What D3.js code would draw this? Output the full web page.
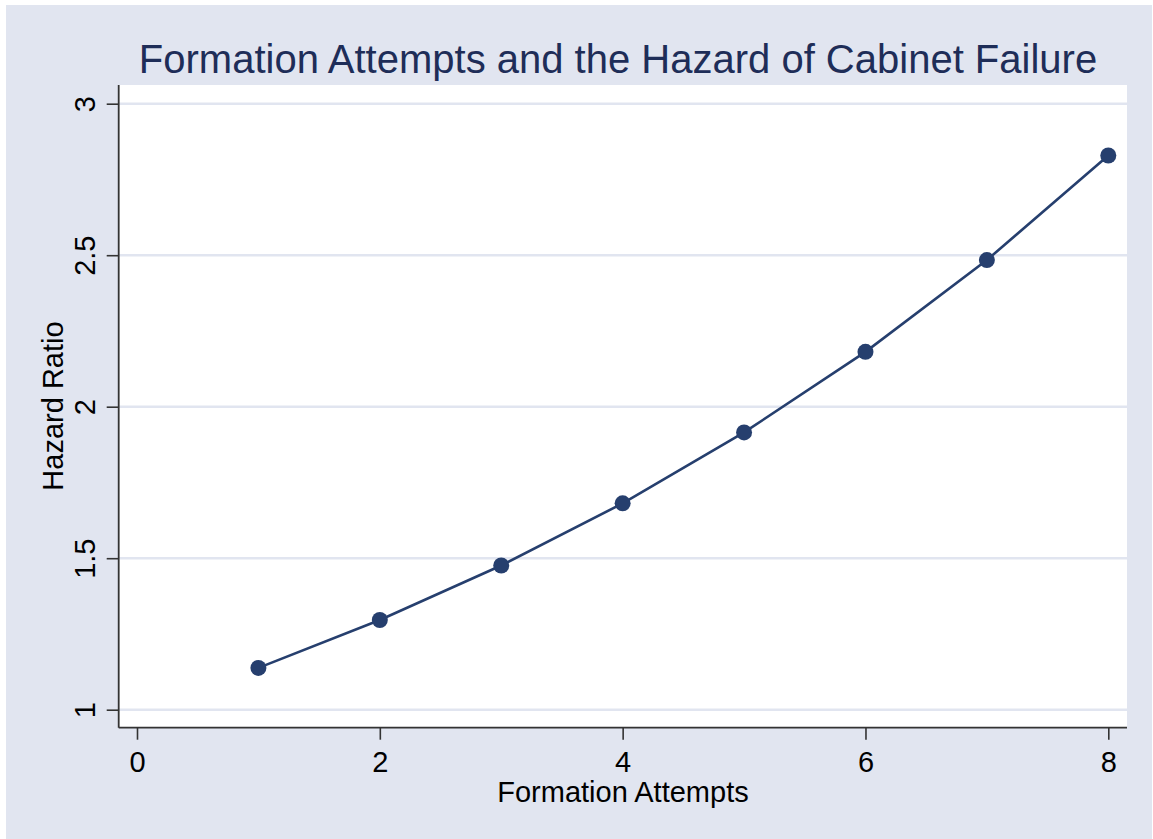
<!DOCTYPE html>
<html><head><meta charset="utf-8">
<script src="https://cdn.jsdelivr.net/npm/d3@7"></script>
<style>body{margin:0;background:#fff}svg{display:block}text{font-family:"Liberation Sans",Arial,sans-serif}</style>
</head><body>
<script>
const attempts = [1, 2, 3, 4, 5, 6, 7, 8];
const hazard = [1.138, 1.296, 1.476, 1.681, 1.915, 2.181, 2.484, 2.829];
const xTicks = [0, 2, 4, 6, 8];
const yTicks = [1, 1.5, 2, 2.5, 3];
const titleText = "Formation Attempts and the Hazard of Cabinet Failure";
const xTitle = "Formation Attempts";
const yTitle = "Hazard Ratio";

const W = 1153, H = 839;
const svg = d3.select("body").append("svg").attr("width", W).attr("height", H);
svg.append("rect").attr("x", 6).attr("y", 5).attr("width", W - 7).attr("height", H - 5).attr("fill", "#e1e5f0");

const plot = {l: 118.7, t: 85, r: 1127, b: 727.7};
svg.append("rect").attr("x", plot.l).attr("y", plot.t).attr("width", plot.r - plot.l).attr("height", plot.b - plot.t).attr("fill", "#fff");

const x = d3.scaleLinear().domain([0, 8]).range([137, 1108.3]);
const y = d3.scaleLinear().domain([1, 3]).range([709.7, 103.7]);

// gridlines
svg.append("g").selectAll("line").data(yTicks).join("line")
  .attr("x1", plot.l).attr("x2", plot.r)
  .attr("y1", d => y(d)).attr("y2", d => y(d))
  .attr("stroke", "#e1e5f0").attr("stroke-width", 2.5);

// y axis
const yAxis = svg.append("g").attr("transform", `translate(${plot.l},0)`)
  .call(d3.axisLeft(y).tickValues(yTicks).tickSize(12).tickPadding(12).tickFormat(d3.format("")));
yAxis.select(".domain").attr("d", `M0,${plot.t}V${plot.b}`).attr("stroke", "#333").attr("stroke-width", 1.8);
yAxis.selectAll(".tick line").attr("stroke", "#333").attr("stroke-width", 1.6);
yAxis.selectAll(".tick text").attr("font-size", 29).attr("fill", "#000")
  .attr("transform", "rotate(-90)").attr("x", 0).attr("y", -23.5).attr("dy", 0)
  .attr("text-anchor", "middle");

// x axis
const xAxis = svg.append("g").attr("transform", `translate(0,${plot.b})`)
  .call(d3.axisBottom(x).tickValues(xTicks).tickSize(12).tickPadding(12));
xAxis.select(".domain").attr("d", `M${plot.l},0H${plot.r}`).attr("stroke", "#333").attr("stroke-width", 1.8);
xAxis.selectAll(".tick line").attr("stroke", "#333").attr("stroke-width", 1.6);
xAxis.selectAll(".tick text").attr("font-size", 29).attr("fill", "#000").attr("y", 44.5).attr("dy", 0);

// line and markers
const line = d3.line().x((d, i) => x(attempts[i])).y(d => y(d));
svg.append("path").datum(hazard).attr("d", line).attr("fill", "none")
  .attr("stroke", "#263f6e").attr("stroke-width", 2.6);
svg.append("g").selectAll("circle").data(hazard).join("circle")
  .attr("cx", (d, i) => x(attempts[i])).attr("cy", d => y(d)).attr("r", 8)
  .attr("fill", "#263f6e");

// titles
svg.append("text").attr("x", 618).attr("y", 73).attr("text-anchor", "middle")
  .attr("font-size", 40).attr("fill", "#1e2d58").text(titleText);
svg.append("text").attr("x", 623).attr("y", 802).attr("text-anchor", "middle")
  .attr("font-size", 29).attr("fill", "#000").text(xTitle);
svg.append("text").attr("transform", `translate(63,406) rotate(-90)`).attr("text-anchor", "middle")
  .attr("font-size", 29).attr("fill", "#000").text(yTitle);
</script>
</body></html>
